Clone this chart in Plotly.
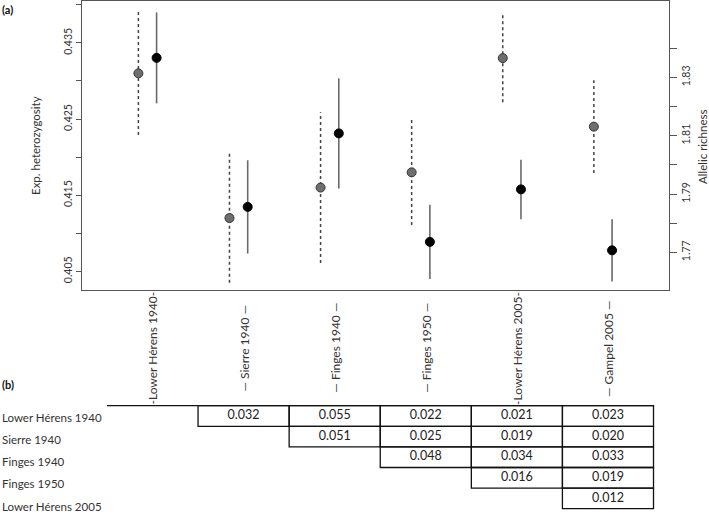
import plotly.graph_objects as go

# ---------------- data ----------------
populations = ["Lower Hérens 1940", "Sierre 1940", "Finges 1940",
               "Finges 1950", "Lower Hérens 2005", "Gampel 2005"]
column_labels = ["-Lower Hérens 1940-", "— Sierre 1940 —", "— Finges 1940 —",
                 "— Finges 1950 —", "-Lower Hérens 2005-", "— Gampel 2005 —"]
het_mean = [0.4310, 0.4120, 0.4160, 0.4180, 0.4330, 0.4240]
het_err = [0.0081, 0.0085, 0.0099, 0.0069, 0.0058, 0.0061]
ar_mean = [1.8367, 1.7856, 1.8108, 1.7736, 1.7916, 1.7707]
ar_err = [0.0156, 0.0160, 0.0189, 0.0127, 0.0102, 0.0107]
het_ticks = [0.405, 0.410, 0.415, 0.420, 0.425, 0.430, 0.435, 0.440]
het_ticklabels = ["0.405", "", "0.415", "", "0.425", "", "0.435", ""]
ar_ticks = [1.77, 1.78, 1.79, 1.80, 1.81, 1.82, 1.83, 1.84]
ar_ticklabels = ["1.77", "", "1.79", "", "1.81", "", "1.83", ""]
row_labels = populations[:5]
fst_rows = [[0.032, 0.055, 0.022, 0.021, 0.023],
            [0.051, 0.025, 0.019, 0.020],
            [0.048, 0.034, 0.033],
            [0.016, 0.019],
            [0.012]]

# ---------------- layout constants ----------------
W, H = 709, 514
FONT = "Lato"
TXT = "#333333"
FRAME = "#555555"
HET_OFF, AR_OFF = -0.155, 0.045
X_RANGE = [-0.774, 5.670]
x_dom = [82 / W, 669 / W]
y_dom = [1 - 290 / H, 1 - 1 / H]
y3_dom = [0, 1 - 292 / H]

fig = go.Figure()

# heterozygosity error bars (dotted)
ex, ey = [], []
for i, (m, e) in enumerate(zip(het_mean, het_err)):
    ex += [i + HET_OFF, i + HET_OFF, None]
    ey += [m - e, m + e, None]
fig.add_trace(go.Scatter(x=ex, y=ey, mode="lines", xaxis="x", yaxis="y",
                         line=dict(color="#444444", width=1.5, dash="dot"),
                         hoverinfo="skip", showlegend=False))
fig.add_trace(go.Scatter(x=[i + HET_OFF for i in range(len(het_mean))], y=het_mean,
                         mode="markers", xaxis="x", yaxis="y",
                         marker=dict(size=9, color="#6e6e6e",
                                     line=dict(color="#333333", width=1)),
                         showlegend=False))

# allelic richness error bars (solid)
ax_, ay_ = [], []
for i, (m, e) in enumerate(zip(ar_mean, ar_err)):
    ax_ += [i + AR_OFF, i + AR_OFF, None]
    ay_ += [m - e, m + e, None]
fig.add_trace(go.Scatter(x=ax_, y=ay_, mode="lines", xaxis="x", yaxis="y2",
                         line=dict(color="#6a6a6a", width=1.6),
                         hoverinfo="skip", showlegend=False))
fig.add_trace(go.Scatter(x=[i + AR_OFF for i in range(len(ar_mean))], y=ar_mean,
                         mode="markers", xaxis="x", yaxis="y2",
                         marker=dict(size=9, color="#000000",
                                     line=dict(color="#000000", width=1)),
                         showlegend=False))

# ---------------- table (b) ----------------
tx, ty, tt = [], [], []
shapes = []
ncol = len(populations)
for r, row in enumerate(fst_rows):
    for k, v in enumerate(row):
        c = ncol - len(row) + k
        tx.append(c)
        ty.append(r)
        tt.append(f"{v:.3f}")
        shapes.append(dict(type="rect", xref="x2", yref="y3",
                           x0=c - 0.5, x1=c + 0.5, y0=r - 0.5, y1=r + 0.5,
                           line=dict(color="#111111", width=1.3)))
shapes.append(dict(type="line", xref="x2", yref="y3",
                   x0=-0.5, x1=ncol - 0.5, y0=-0.5, y1=-0.5,
                   line=dict(color="#111111", width=1.3)))
fig.add_trace(go.Scatter(x=tx, y=ty, text=tt, mode="text", xaxis="x2", yaxis="y3",
                         textfont=dict(family=FONT, size=12.5, color="#222222"),
                         hoverinfo="skip", showlegend=False))

annotations = []
for j, lab in enumerate(column_labels):
    annotations.append(dict(text=lab, xref="x2", yref="y3", x=j, y=-3.30,
                            textangle=-90, showarrow=False,
                            font=dict(family=FONT, size=12, color=TXT)))
for r, lab in enumerate(row_labels):
    annotations.append(dict(text=lab, xref="paper", yref="y3", x=0, y=r * 1.073 + 0.08,
                            xanchor="left", yanchor="middle", showarrow=False,
                            font=dict(family=FONT, size=11.5, color=TXT)))
annotations += [
    dict(text="<b>(a)</b>", xref="paper", yref="paper", x=0, y=1 - 9 / H,
         xanchor="left", yanchor="middle", showarrow=False,
         font=dict(family=FONT, size=11, color="#111111")),
    dict(text="<b>(b)</b>", xref="paper", yref="paper", x=0, y=1 - 384 / H,
         xanchor="left", yanchor="middle", showarrow=False,
         font=dict(family=FONT, size=11, color="#111111")),
    dict(text="Exp. heterozygosity", xref="paper", yref="paper", x=35 / W, y=1 - 146 / H,
         textangle=-90, showarrow=False, xanchor="center", yanchor="middle",
         font=dict(family=FONT, size=11.5, color=TXT)),
    dict(text="Allelic richness", xref="paper", yref="paper", x=702 / W, y=1 - 147 / H,
         textangle=-90, showarrow=False, xanchor="center", yanchor="middle",
         font=dict(family=FONT, size=11.5, color=TXT)),
]

fig.update_layout(
    width=W, height=H, autosize=False,
    margin=dict(l=0, r=0, t=0, b=0),
    paper_bgcolor="white", plot_bgcolor="white",
    font=dict(family=FONT, color=TXT),
    showlegend=False,
    shapes=shapes,
    annotations=annotations,
    xaxis=dict(domain=x_dom, range=X_RANGE, anchor="y", showticklabels=False,
               ticks="", showline=True, mirror=True, linecolor=FRAME, linewidth=1.3,
               showgrid=False, zeroline=False, fixedrange=True),
    yaxis=dict(domain=y_dom, range=[0.40255, 0.4405], anchor="x",
               tickvals=het_ticks, ticktext=het_ticklabels, tickangle=-90,
               ticks="outside", ticklen=5, tickcolor=FRAME, tickwidth=1,
               tickfont=dict(family=FONT, size=10.5, color=TXT),
               showline=True, linecolor=FRAME, linewidth=1.3,
               showgrid=False, zeroline=False),
    yaxis2=dict(overlaying="y", side="right", anchor="x", range=[1.7571, 1.8562],
                tickvals=ar_ticks, ticktext=ar_ticklabels, tickangle=-90,
                ticks="outside", ticklen=7, tickcolor=FRAME, tickwidth=1,
                tickfont=dict(family=FONT, size=10.5, color=TXT),
                showline=True, linecolor=FRAME, linewidth=1.3,
                showgrid=False, zeroline=False),
    xaxis2=dict(domain=x_dom, range=X_RANGE, anchor="y3", visible=False),
    yaxis3=dict(domain=y3_dom, range=[4.757, -6.019], anchor="x2", visible=False),
)

fig.write_html("out.html", config={"displayModeBar": False},
               post_script="document.body.style.margin='0';document.body.style.overflow='hidden';")
